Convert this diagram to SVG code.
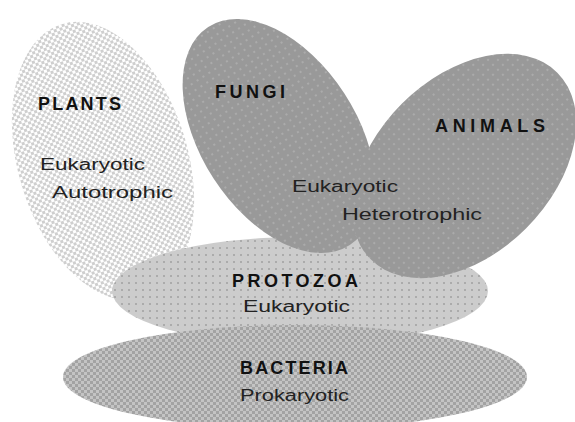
<svg xmlns="http://www.w3.org/2000/svg" width="575" height="422" viewBox="0 0 575 422">
<style>
.t{font-family:"Liberation Sans",Arial,sans-serif;font-weight:bold;font-size:18px;fill:#111}
.s{font-family:"Liberation Sans",Arial,sans-serif;font-size:16px;fill:#222}
</style>
<defs>
<pattern id="pPlants" width="6" height="6" patternUnits="userSpaceOnUse">
<rect width="6" height="6" fill="#ffffff"/>
<rect width="3" height="3" fill="#cfcfcf"/>
<rect x="3" y="3" width="3" height="3" fill="#cfcfcf"/>
</pattern>
<pattern id="pDark" width="7" height="7" patternUnits="userSpaceOnUse">
<rect width="7" height="7" fill="#999999"/>
<rect x="2" y="2" width="2" height="2" fill="#ababab"/>
</pattern>
<pattern id="pProto" width="7" height="7" patternUnits="userSpaceOnUse">
<rect width="7" height="7" fill="#cccccc"/>
<rect x="2" y="2" width="2" height="2" fill="#ababab"/>
</pattern>
<pattern id="pBact" width="6" height="6" patternUnits="userSpaceOnUse">
<rect width="6" height="6" fill="#a3a3a3"/>
<rect width="3" height="3" fill="#c4c4c4"/>
<rect x="3" y="3" width="3" height="3" fill="#c4c4c4"/>
</pattern>
</defs>
<rect width="575" height="422" fill="#ffffff"/>
<g id="plants">
<ellipse cx="103" cy="161" rx="85" ry="143" transform="rotate(-16.6 103 161)" fill="url(#pPlants)"/>
</g>
<g id="protozoa">
<ellipse cx="300" cy="291" rx="188" ry="54" fill="url(#pProto)"/>
</g>
<g id="fungi">
<ellipse cx="279" cy="136" rx="78" ry="130" transform="rotate(-33 279 136)" fill="url(#pDark)"/>
</g>
<g id="animals">
<ellipse cx="464" cy="166" rx="132" ry="88" transform="rotate(-45 464 166)" fill="url(#pDark)"/>
</g>
<g id="bacteria">
<ellipse cx="295" cy="377" rx="232" ry="52" fill="url(#pBact)"/>
</g>
<g id="connectors"></g>
<g id="labels">
<text class="t" x="38" y="110" textLength="83" lengthAdjust="spacing">PLANTS</text>
<text class="s" x="40" y="170" textLength="105" lengthAdjust="spacingAndGlyphs">Eukaryotic</text>
<text class="s" x="52" y="198" textLength="121" lengthAdjust="spacingAndGlyphs">Autotrophic</text>
<text class="t" x="215" y="98" textLength="70" lengthAdjust="spacing">FUNGI</text>
<text class="t" x="435" y="132" textLength="110" lengthAdjust="spacing">ANIMALS</text>
<text class="s" x="292" y="192" textLength="106" lengthAdjust="spacingAndGlyphs">Eukaryotic</text>
<text class="s" x="342" y="220" textLength="140" lengthAdjust="spacingAndGlyphs">Heterotrophic</text>
<text class="t" x="232" y="287" textLength="126" lengthAdjust="spacing">PROTOZOA</text>
<text class="s" x="243" y="312" textLength="107" lengthAdjust="spacingAndGlyphs">Eukaryotic</text>
<text class="t" x="240" y="374" textLength="108" lengthAdjust="spacing">BACTERIA</text>
<text class="s" x="240" y="401" textLength="109" lengthAdjust="spacingAndGlyphs">Prokaryotic</text>
</g>
</svg>
